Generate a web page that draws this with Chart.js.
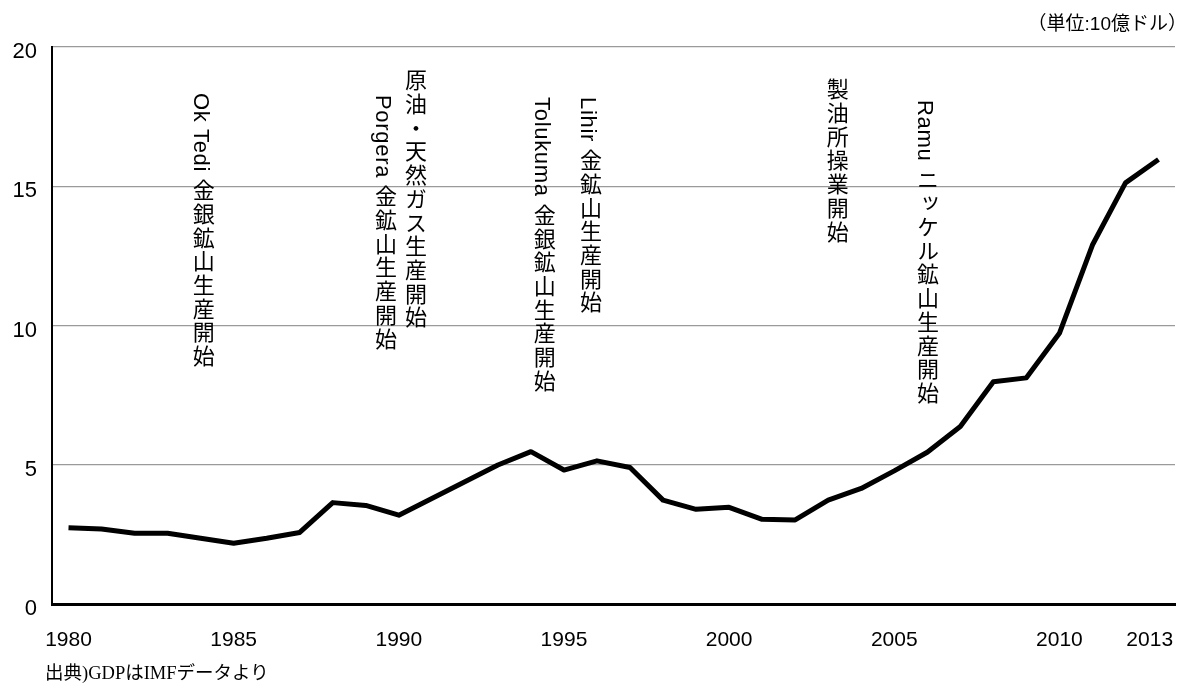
<!DOCTYPE html>
<html lang="ja">
<head>
<meta charset="utf-8">
<script src="https://cdn.jsdelivr.net/npm/chart.js@4.4.1/dist/chart.umd.min.js"></script>
<style>
  html, body { margin: 0; padding: 0; background: #fff; }
  #wrap { position: relative; width: 1180px; height: 688px; overflow: hidden; }
  #c { position: absolute; left: 0; top: 0; }
  .unit {
    position: absolute; right: -7px; top: 14px;
    font: 19px/1 "Liberation Sans", "Noto Sans CJK JP", sans-serif; color: #000;
  }
  .src {
    position: absolute; left: 45px; top: 664px;
    font: 18.5px/1 "Liberation Serif", "Noto Sans CJK JP", serif; color: #000;
  }
  .event {
    position: absolute; writing-mode: vertical-rl; text-orientation: mixed;
    font: 22px/1 "Liberation Sans", "Noto Sans CJK JP", sans-serif;
    letter-spacing: 1.7px; white-space: nowrap; color: #000;
  }
  .event .lat { letter-spacing: 0.7px; }
</style>
</head>
<body>
<div id="wrap">
  <canvas id="c" width="1180" height="688"></canvas>
  <div class="unit">（単位:10億ドル）</div>
  <div class="src">出典)GDPはIMFデータより</div>
</div>
<script>
// Papua New Guinea GDP, billions of US dollars
const years = [1980, 1981, 1982, 1983, 1984, 1985, 1986, 1987, 1988, 1989,
               1990, 1991, 1992, 1993, 1994, 1995, 1996, 1997, 1998, 1999,
               2000, 2001, 2002, 2003, 2004, 2005, 2006, 2007, 2008, 2009,
               2010, 2011, 2012, 2013];
const gdp = [2.74, 2.69, 2.54, 2.54, 2.36, 2.18, 2.36, 2.57, 3.64, 3.54,
             3.19, 3.79, 4.39, 4.99, 5.47, 4.81, 5.14, 4.90, 3.73, 3.40,
             3.47, 3.04, 3.02, 3.73, 4.15, 4.78, 5.45, 6.37, 7.98, 8.12,
             9.72, 12.89, 15.12, 15.96];
const xTickLabels = ['1980', '1985', '1990', '1995', '2000', '2005', '2010', '2013'];
const yTickValues = [0, 5, 10, 15, 20];

// Milestones written as vertical captions
const eventLabels = [
  'Ok Tedi 金銀鉱山生産開始',
  'Porgera 金鉱山生産開始',
  '原油・天然ガス生産開始',
  'Tolukuma 金銀鉱山生産開始',
  'Lihir 金鉱山生産開始',
  '製油所操業開始',
  'Ramu ニッケル鉱山生産開始'
];
// Caption anchors: [category index, value at top of the column]
const eventAnchors = [
  [4.0, 18.35], [9.52, 18.27], [10.43, 19.2], [14.33, 18.2],
  [15.73, 18.2], [23.2, 18.9], [25.93, 18.1]
];

const wrap = document.getElementById('wrap');
const eventDivs = eventLabels.map(t => {
  const d = document.createElement('div');
  d.className = 'event';
  // Latin runs lie sideways in the column and are set a little tighter
  t.split(/([\x20-\x7e]+)/).forEach(part => {
    if (!part) return;
    if (/^[\x20-\x7e]+$/.test(part)) {
      const s = document.createElement('span');
      s.className = 'lat';
      s.textContent = part;
      d.appendChild(s);
    } else {
      d.appendChild(document.createTextNode(part));
    }
  });
  wrap.appendChild(d);
  return d;
});

const placeEvents = {
  id: 'placeEvents',
  afterDraw(chart) {
    const xs = chart.scales.x, ys = chart.scales.y;
    eventAnchors.forEach(([idx, top], i) => {
      const d = eventDivs[i];
      d.style.left = (xs.getPixelForValue(idx) - d.offsetWidth / 2) + 'px';
      d.style.top = ys.getPixelForValue(top) + 'px';
    });
  }
};

const lastYear = years[years.length - 1];

new Chart(document.getElementById('c'), {
  type: 'line',
  data: {
    labels: years.map(String),
    datasets: [{
      data: gdp,
      borderColor: '#000',
      borderWidth: 5,
      pointRadius: 0,
      tension: 0,
      borderJoinStyle: 'round',
      fill: false
    }]
  },
  options: {
    responsive: false,
    animation: false,
    layout: { padding: { top: 47, right: 5, left: 0, bottom: 0 } },
    plugins: { legend: { display: false }, tooltip: { enabled: false } },
    scales: {
      x: {
        type: 'category',
        offset: true,
        grid: { display: false, drawTicks: false },
        border: { display: true, color: '#000', width: 3 },
        ticks: {
          autoSkip: false, maxRotation: 0, padding: 24, color: '#000',
          font: { family: 'Liberation Sans', size: 21 },
          callback: (v, i) => {
            const y = String(years[i]);
            if (!xTickLabels.includes(y)) return '';
            // trailing space keeps the final year inside the right edge
            return years[i] === lastYear ? y + '\u2007 ' : y;
          }
        },
        afterFit: s => { s.height = 84; s.paddingLeft = 0; s.paddingRight = 0; }
      },
      y: {
        min: 0, max: 20,
        afterBuildTicks: s => { s.ticks = yTickValues.map(v => ({ value: v })); },
        ticks: {
          padding: 15, labelOffset: 5, color: '#000',
          font: { family: 'Liberation Sans', size: 22 }
        },
        grid: {
          drawTicks: false,
          color: c => (c.tick && c.tick.value === 0) ? 'rgba(0,0,0,0)' : '#9a9a9a',
          lineWidth: 1.2
        },
        border: { display: true, color: '#000', width: 2 },
        afterFit: s => { s.width = 52; }
      }
    }
  },
  plugins: [placeEvents]
});
</script>
</body>
</html>
